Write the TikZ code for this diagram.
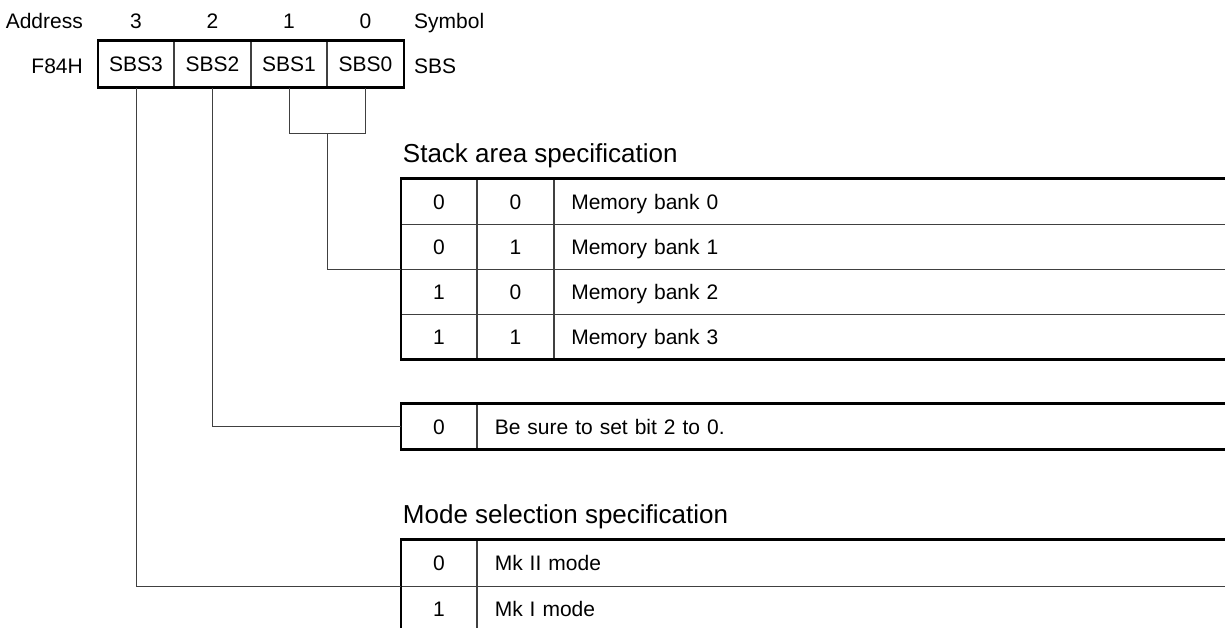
\documentclass[tikz,border=0pt]{standalone}
\usepackage{fontspec}
\setmainfont{Liberation Sans}
\usetikzlibrary{positioning,calc}
\newcommand\regfont{\fontsize{21}{25}\selectfont}
\newcommand\headfont{\fontsize{26}{31}\selectfont}
\tikzset{
  thinline/.style={line width=1pt, draw=black!75},
  bitcell/.style={thinline, minimum width=75.5, minimum height=45, inner sep=0, font=\regfont},
  rowtext/.style={text height=15, text depth=0},
  desccell/.style={thinline, rowtext, minimum height=45, inner xsep=17, inner ysep=0,
    text width=#1, align=left, font=\regfont},
  frame/.style={line width=2.2pt},
  wire/.style={line width=1pt, black!75},
  lbl/.style={font=\regfont, inner sep=0},
  caption/.style={font=\headfont, inner sep=0, anchor=base west},
}
\begin{document}
\begin{tikzpicture}[x=1pt,y=-1pt]
  \useasboundingbox (0,0) rectangle (1225,627);
  \clip (0,0) rectangle (1225,627);

  % register F84H
  \node[bitcell, minimum height=46] (reg3) at (136,64) {SBS3};
  \node[bitcell, minimum height=46, right=0pt of reg3] (reg2) {SBS2};
  \node[bitcell, minimum height=46, right=0pt of reg2] (reg1) {SBS1};
  \node[bitcell, minimum height=46, right=0pt of reg1] (reg0) {SBS0};
  \draw[frame] (reg3.north west) rectangle (reg0.south east);

  \node[lbl, anchor=base east] (addr) at (83,28) {Address};
  \node[lbl, anchor=base east] (f84h) at (83,73) {F84H};
  \foreach \i in {3,2,1,0}
    \node[lbl, anchor=base] (bit\i) at (reg\i.center |- addr.base) {\i};
  \node[lbl, anchor=base west] (sym) at (414,28) {Symbol};
  \node[lbl, anchor=base west] (sbs) at (414,73) {SBS};

  % stack area
  \foreach \b/\c/\m [count=\r from 0] in {0/0/0,0/1/1,1/0/2,1/1/3} {
    \node[bitcell, rowtext] (stk-\r-1) at (439,201.5+45*\r) {\b};
    \node[bitcell, rowtext, right=0pt of stk-\r-1] (stk-\r-2) {\c};
    \node[desccell=654, right=0pt of stk-\r-2] (stk-\r-3) {Memory bank \m};
  }
  \draw[frame] (stk-0-1.north west) rectangle (stk-3-3.south east);
  \node[caption] (stktitle) at ([shift={(2pt,16.5pt)}]stk-0-1.north west)
    {Stack area specification};

  % bit 2
  \node[bitcell, rowtext] (set-1) at (439,426.5) {0};
  \node[desccell=729, right=0pt of set-1] (set-2) {Be sure to set bit 2 to 0.};
  \draw[frame] (set-1.north west) rectangle (set-2.south east);

  % mode selection
  \foreach \v/\t [count=\r from 0] in {0/Mk II mode,1/Mk I mode} {
    \node[bitcell, rowtext, minimum height=46] (mode-\r-1) at (439,563+46*\r) {\v};
    \node[desccell=729, minimum height=46, right=0pt of mode-\r-1] (mode-\r-2) {\t};
  }
  \draw[frame] (mode-0-1.north west) rectangle (mode-1-2.south east);
  \node[caption] (modetitle) at ([shift={(2pt,16.5pt)}]mode-0-1.north west)
    {Mode selection specification};

  % connectors
  \draw[wire] (reg1.south) -- ++(0,46) coordinate (brk1) -| (reg0.south);
  \draw[wire] ($(brk1)!0.5!(brk1 -| reg0.south)$) |- (stk-1-1.south west);
  \draw[wire] (reg2.south) |- (set-1.west);
  \draw[wire] (reg3.south) |- (mode-0-1.south west);
\end{tikzpicture}
\end{document}
